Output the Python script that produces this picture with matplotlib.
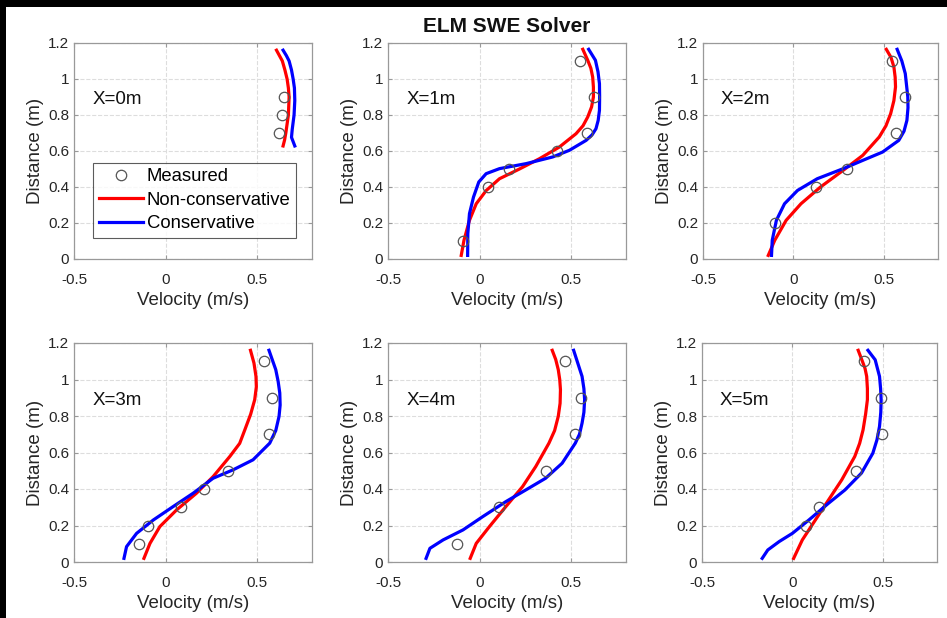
import numpy as np
import matplotlib
matplotlib.use('Agg')
import matplotlib.pyplot as plt
from matplotlib.patches import Rectangle

plt.rcParams['font.family'] = ['Liberation Sans', 'DejaVu Sans']

panel_labels = ['X=0m', 'X=1m', 'X=2m', 'X=3m', 'X=4m', 'X=5m']

# measured profiles (velocity, distance)
meas_u = [
    [0.646, 0.635, 0.618],
    [0.55, 0.624, 0.585, 0.424, 0.16, 0.045, -0.091],
    [0.547, 0.619, 0.569, 0.298, 0.123, -0.103],
    [0.538, 0.584, 0.565, 0.342, 0.211, 0.084, -0.098, -0.145],
    [0.469, 0.556, 0.52, 0.365, 0.108, -0.125],
    [0.395, 0.49, 0.496, 0.351, 0.149, 0.076],
]
meas_z = [
    [0.9, 0.8, 0.7],
    [1.1, 0.9, 0.7, 0.6, 0.5, 0.4, 0.1],
    [1.1, 0.9, 0.7, 0.5, 0.4, 0.2],
    [1.1, 0.9, 0.7, 0.5, 0.4, 0.3, 0.2, 0.1],
    [1.1, 0.9, 0.7, 0.5, 0.3, 0.1],
    [1.1, 0.9, 0.7, 0.5, 0.3, 0.2],
]

# non-conservative model
nc_u = [
    [0.642, 0.650, 0.657, 0.664, 0.671, 0.675, 0.671, 0.664, 0.652, 0.638, 0.622, 0.606],
    [-0.1, -0.085, -0.055, -0.018, 0.036, 0.109, 0.218, 0.327, 0.436, 0.527, 0.565, 0.591, 0.612,
     0.622, 0.622, 0.618, 0.608, 0.591, 0.564],
    [-0.139, -0.103, -0.04, 0.042, 0.15, 0.276, 0.384, 0.475, 0.512, 0.538, 0.556, 0.565, 0.563,
     0.556, 0.540, 0.514],
    [-0.118, -0.085, -0.031, 0.06, 0.169, 0.26, 0.351, 0.405, 0.433, 0.465, 0.487, 0.496, 0.494,
     0.483, 0.464],
    [-0.051, -0.018, 0.054, 0.144, 0.235, 0.307, 0.379, 0.410, 0.43, 0.440, 0.442, 0.438, 0.43,
     0.416, 0.397],
    [0.007, 0.055, 0.127, 0.2, 0.273, 0.345, 0.372, 0.391, 0.405, 0.415, 0.415, 0.411, 0.402,
     0.391, 0.364],
]
nc_z = [
    [0.628, 0.66, 0.7, 0.75, 0.8, 0.9, 0.95, 1.0, 1.05, 1.1, 1.13, 1.16],
    [0.02, 0.104, 0.215, 0.307, 0.38, 0.446, 0.5, 0.557, 0.622, 0.696, 0.74, 0.789, 0.845,
     0.9, 0.955, 1.011, 1.06, 1.104, 1.165],
    [0.02, 0.104, 0.215, 0.307, 0.4, 0.493, 0.576, 0.678, 0.74, 0.807, 0.88, 0.956, 1.01,
     1.067, 1.12, 1.165],
    [0.02, 0.102, 0.194, 0.285, 0.377, 0.468, 0.578, 0.65, 0.724, 0.81, 0.889, 0.96, 1.017,
     1.09, 1.16],
    [0.02, 0.102, 0.194, 0.304, 0.413, 0.523, 0.651, 0.72, 0.798, 0.87, 0.944, 1.0, 1.054,
     1.11, 1.16],
    [0.02, 0.121, 0.23, 0.34, 0.45, 0.578, 0.65, 0.724, 0.81, 0.889, 0.95, 1.017, 1.06,
     1.09, 1.16],
]

# conservative model
c_u = [
    [0.706, 0.688, 0.692, 0.697, 0.702, 0.706, 0.704, 0.697, 0.688, 0.675, 0.660, 0.642],
    [-0.065, -0.064, -0.055, -0.033, -0.004, 0.036, 0.109, 0.255, 0.4, 0.491, 0.582, 0.615,
     0.636, 0.648, 0.655, 0.656, 0.655, 0.647, 0.633, 0.596],
    [-0.121, -0.117, -0.094, -0.049, 0.023, 0.132, 0.276, 0.384, 0.493, 0.583, 0.612, 0.628,
     0.634, 0.633, 0.619, 0.600, 0.574],
    [-0.227, -0.213, -0.158, -0.067, 0.042, 0.151, 0.26, 0.369, 0.478, 0.569, 0.602, 0.62,
     0.626, 0.624, 0.615, 0.602, 0.565],
    [-0.292, -0.271, -0.199, -0.09, 0.018, 0.144, 0.253, 0.361, 0.451, 0.523, 0.546, 0.56,
     0.570, 0.574, 0.570, 0.56, 0.514],
    [-0.167, -0.136, -0.073, 0.0, 0.091, 0.2, 0.291, 0.382, 0.445, 0.468, 0.482, 0.489,
     0.491, 0.488, 0.482, 0.458, 0.418],
]
c_z = [
    [0.628, 0.676, 0.72, 0.76, 0.8, 0.88, 0.95, 1.0, 1.05, 1.1, 1.13, 1.16],
    [0.02, 0.141, 0.252, 0.344, 0.428, 0.474, 0.502, 0.53, 0.567, 0.604, 0.659, 0.69,
     0.724, 0.77, 0.826, 0.9, 0.974, 1.04, 1.104, 1.165],
    [0.02, 0.104, 0.215, 0.307, 0.381, 0.446, 0.502, 0.548, 0.594, 0.659, 0.71, 0.77,
     0.84, 0.9, 1.03, 1.1, 1.165],
    [0.02, 0.084, 0.157, 0.23, 0.304, 0.377, 0.459, 0.505, 0.56, 0.651, 0.72, 0.798,
     0.86, 0.926, 0.99, 1.054, 1.16],
    [0.02, 0.075, 0.121, 0.176, 0.249, 0.331, 0.395, 0.459, 0.541, 0.651, 0.70, 0.761,
     0.82, 0.889, 0.95, 1.017, 1.16],
    [0.02, 0.066, 0.112, 0.157, 0.23, 0.322, 0.395, 0.487, 0.596, 0.67, 0.743, 0.82,
     0.889, 0.95, 1.017, 1.108, 1.16],
]

W, H = 947, 618
fig = plt.figure(figsize=(W / 100, H / 100), dpi=100)
fig.patch.set_facecolor('black')
fig.add_artist(Rectangle((6 / W, 0), 1, (H - 7) / H, transform=fig.transFigure,
                         facecolor='white', edgecolor='none', zorder=-10))

# axes boxes in pixels: left, top, right, bottom
boxes = [
    (74, 43, 312, 259), (388, 43, 626, 259), (703, 43, 938, 259),
    (74, 343, 312, 562), (388, 343, 626, 562), (702, 343, 937, 562),
]

for i, (l, t, r, b) in enumerate(boxes):
    ax = fig.add_axes([l / W, (H - b) / H, (r - l) / W, (b - t) / H])
    ax.plot(meas_u[i], meas_z[i], 'o', mfc='none', mec='#555555', ms=7.5, mew=0.9,
            label='Measured', zorder=3)
    ax.plot(nc_u[i], nc_z[i], color='red', lw=2.3, label='Non-conservative')
    ax.plot(c_u[i], c_z[i], color='blue', lw=2.3, label='Conservative')
    ax.set_xlim(-0.5, 0.8)
    ax.set_ylim(0, 1.2)
    ax.set_xticks([-0.5, 0, 0.5])
    ax.set_xticklabels(['-0.5', '0', '0.5'])
    ax.set_yticks([0, 0.2, 0.4, 0.6, 0.8, 1.0, 1.2])
    ax.set_yticklabels(['0', '0.2', '0.4', '0.6', '0.8', '1', '1.2'])
    ax.grid(True, ls='--', color='#dddddd', lw=0.8)
    ax.set_axisbelow(True)
    for s in ax.spines.values():
        s.set_color('#999999')
        s.set_linewidth(0.9)
    ax.tick_params(direction='in', length=3, colors='#999999', labelcolor='#262626',
                   labelsize=11, top=True, right=True)
    ax.tick_params(axis='x', pad=10)
    ax.set_xlabel('Velocity (m/s)', fontsize=13.5, color='#262626', labelpad=4)
    ax.set_ylabel('Distance (m)', fontsize=13.5, color='#262626', labelpad=3)
    ax.text(-0.4, 0.885, panel_labels[i], fontsize=13.5, va='center', ha='left', color='#111111')
    if i == 0:
        leg = ax.legend(loc='upper left', bbox_to_anchor=(0.08, 0.445), borderaxespad=0,
                        fontsize=13.3, fancybox=False, frameon=True, handlelength=2.4,
                        handletextpad=0.2, labelspacing=0.35, borderpad=0.3)
        leg.get_frame().set_edgecolor('#333333')
        leg.get_frame().set_linewidth(0.8)

fig.text(507 / W, 1 - 27 / H, 'ELM SWE Solver', fontsize=15, fontweight='bold',
         ha='center', va='center', color='#111111')

fig.savefig('out.png', dpi=100, facecolor=fig.get_facecolor())
